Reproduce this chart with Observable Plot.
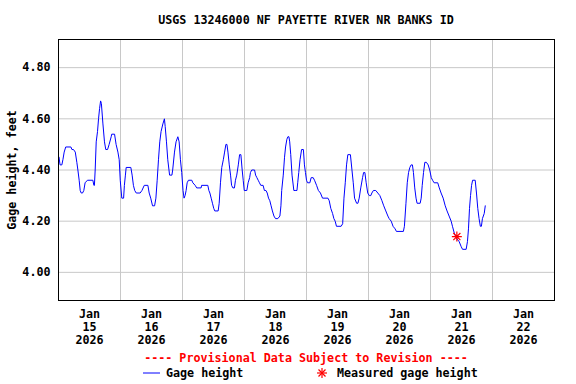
<!DOCTYPE html>
<html>
<head>
<meta charset="utf-8">
<script src="https://cdn.jsdelivr.net/npm/d3@7"></script>
<script src="https://cdn.jsdelivr.net/npm/@observablehq/plot@0.6"></script>
<style>
  body { margin: 0; background: #fff; }
  #wrap { position: relative; width: 576px; height: 384px; overflow: hidden;
          font-family: "DejaVu Sans Mono", monospace; font-weight: bold; font-size: 11.7px; color: #000; }
  .t { position: absolute; white-space: pre; line-height: 14px; }
  #chart { position: absolute; left: 0; top: 34px; }
</style>
</head>
<body>
<div id="wrap">
  <div class="t" id="title" style="left:58px;width:496px;top:13px;text-align:center;"></div>
  <div id="chart"></div>
  <div class="t" id="caption" style="left:58px;width:496px;top:351px;text-align:center;color:#ff0000;"></div>
  <svg style="position:absolute;left:0;top:360px" width="576" height="24">
    <line x1="143" x2="160" y1="13" y2="13" stroke="#0000ff" stroke-width="1"></line>
    <g transform="translate(322,13)" stroke="#ff0000" stroke-width="1.2">
      <line x1="-5" x2="5" y1="0" y2="0"></line>
      <line x1="0" x2="0" y1="-5" y2="5"></line>
      <line x1="-3.5" x2="3.5" y1="-3.5" y2="3.5"></line>
      <line x1="-3.5" x2="3.5" y1="3.5" y2="-3.5"></line>
    </g>
  </svg>
  <div class="t" id="leg1" style="left:166px;top:366px;"></div>
  <div class="t" id="leg2" style="left:337px;top:366px;"></div>
</div>
<script>
// ---- data ----
const titleText = "USGS 13246000 NF PAYETTE RIVER NR BANKS ID";
const captionText = "---- Provisional Data Subject to Revision ----";
const legendLine = "Gage height";
const legendStar = "Measured gage height";
const yLabel = "Gage height, feet";
const yTicks = [4.00, 4.20, 4.40, 4.60, 4.80];
const dayLabels = ["15", "16", "17", "18", "19", "20", "21", "22"];
const monthLabel = "Jan";
const yearLabel = "2026";
// [hours since 2026-01-15 00:00, gage height ft]
const gageReadings = [
  [0.2,4.45],[0.6,4.42],[1.3,4.42],[1.7,4.44],[2.2,4.47],[2.8,4.49],[4.8,4.49],[5.2,4.48],[5.8,4.48],
  [6.5,4.47],[7.1,4.43],[7.5,4.40],[8.0,4.36],[8.4,4.32],[8.8,4.31],[9.3,4.31],[9.8,4.32],[10.3,4.35],
  [11.2,4.36],[13.3,4.36],[13.7,4.34],[13.9,4.34],[14.2,4.40],[14.6,4.51],[15.1,4.55],[15.5,4.60],
  [15.9,4.64],[16.3,4.67],[16.6,4.66],[17.2,4.58],[17.8,4.51],[18.3,4.48],[19.0,4.48],[19.6,4.50],
  [20.4,4.53],[20.6,4.54],[21.7,4.54],[22.3,4.50],[23.0,4.47],[23.5,4.44],[23.9,4.36],[24.5,4.29],
  [25.2,4.29],[25.5,4.34],[25.9,4.38],[26.2,4.41],[28.0,4.41],[28.5,4.38],[29.0,4.34],[29.5,4.32],
  [30.1,4.31],[31.6,4.31],[32.3,4.32],[33.2,4.34],[34.6,4.34],[35.1,4.31],[35.7,4.29],[36.4,4.26],
  [37.2,4.26],[37.7,4.29],[38.2,4.36],[38.7,4.44],[39.2,4.51],[39.7,4.55],[40.4,4.58],[41.0,4.60],
  [41.3,4.57],[41.8,4.51],[42.3,4.44],[43.0,4.38],[43.9,4.38],[44.2,4.40],[44.9,4.47],[45.5,4.51],
  [46.2,4.53],[46.7,4.51],[47.2,4.44],[47.7,4.39],[48.2,4.32],[48.6,4.29],[49.0,4.30],[49.4,4.32],
  [49.8,4.35],[50.3,4.36],[51.6,4.36],[52.0,4.35],[52.9,4.34],[53.5,4.33],[55.2,4.33],
  [55.4,4.34],[57.8,4.34],[58.2,4.32],[58.6,4.31],[59.1,4.29],[59.6,4.27],[60.1,4.25],[60.5,4.24],
  [61.8,4.24],[62.2,4.27],[62.7,4.35],[63.2,4.41],[63.8,4.44],[64.3,4.47],[64.8,4.50],[65.2,4.50],
  [65.6,4.47],[66.1,4.42],[66.6,4.38],[67.0,4.34],[67.5,4.33],[68.1,4.33],[68.5,4.36],[69.0,4.38],
  [69.6,4.42],[70.1,4.46],[70.6,4.46],[71.1,4.40],[71.5,4.36],[71.9,4.32],[72.9,4.32],[73.4,4.35],
  [74.0,4.37],[74.3,4.39],[74.8,4.40],[75.9,4.40],[76.3,4.38],[76.8,4.37],[77.3,4.36],[77.8,4.35],
  [78.3,4.34],[79.2,4.34],[79.7,4.32],[80.3,4.32],[80.8,4.31],[81.3,4.29],[81.8,4.28],[82.3,4.26],
  [82.8,4.24],[83.4,4.22],[84.0,4.21],[84.9,4.21],[85.7,4.22],[86.1,4.26],[86.4,4.32],[87.0,4.38],
  [87.5,4.45],[87.9,4.49],[88.4,4.52],[88.8,4.53],[89.2,4.53],[89.5,4.51],[89.9,4.46],[90.4,4.38],
  [91.1,4.32],[91.6,4.32],[92.3,4.32],[92.6,4.35],[93.0,4.39],[93.5,4.44],[94.1,4.48],[94.8,4.48],
  [95.2,4.42],[95.6,4.39],[96.0,4.36],[96.4,4.35],[97.3,4.35],[97.8,4.37],[98.6,4.37],[99.1,4.36],
  [99.9,4.34],[100.6,4.32],[101.4,4.31],[102.2,4.29],[104.3,4.29],[104.8,4.28],[105.4,4.25],
  [106.1,4.23],[106.6,4.21],[107.1,4.20],[107.6,4.18],[109.4,4.18],[110.0,4.19],
  [110.5,4.29],[111.0,4.35],[111.5,4.42],[112.0,4.46],[113.0,4.46],[113.6,4.40],[114.1,4.35],
  [114.6,4.29],[115.4,4.27],[115.9,4.27],[116.4,4.29],[117.0,4.33],[117.7,4.37],[118.1,4.39],
  [118.6,4.39],[119.1,4.35],[119.7,4.31],[120.3,4.30],[120.9,4.30],[121.3,4.31],[121.9,4.32],
  [122.8,4.32],[123.6,4.31],[124.4,4.30],[125.2,4.28],[125.9,4.26],[126.7,4.24],[127.5,4.22],
  [128.0,4.21],[128.8,4.20],[129.5,4.18],[130.3,4.17],[130.8,4.16],[133.5,4.16],[133.9,4.18],
  [134.5,4.27],[135.0,4.35],[135.5,4.39],[136.0,4.41],[136.5,4.42],[137.0,4.42],[137.4,4.39],
  [137.9,4.33],[138.4,4.29],[138.8,4.27],[140.0,4.27],[140.4,4.29],[140.8,4.34],[141.3,4.39],
  [141.8,4.43],[142.4,4.43],[143.1,4.42],[143.7,4.40],[144.3,4.37],[144.8,4.36],[145.4,4.35],
  [146.8,4.35],[147.4,4.33],[148.1,4.31],[148.9,4.29],[149.7,4.26],[150.4,4.24],[151.2,4.22],
  [152.0,4.20],[152.5,4.18],[153.3,4.15],[154.3,4.13],[155.1,4.12],[155.9,4.10],[156.4,4.09],
  [157.8,4.09],[158.3,4.12],[158.7,4.17],[159.1,4.25],[159.5,4.30],[159.9,4.34],[160.3,4.36],
  [161.3,4.36],[161.8,4.31],[162.3,4.25],[162.8,4.21],[163.3,4.18],[163.7,4.18],[164.1,4.21],
  [164.8,4.23],[165.2,4.26]
];
const measuredHours = [154.2];
const measuredFeet = [4.14];

// ---- build ----
document.getElementById("title").textContent = titleText;
document.getElementById("caption").textContent = captionText;
document.getElementById("leg1").textContent = legendLine;
document.getElementById("leg2").textContent = legendStar;

const start = Date.UTC(2026, 0, 15);
const toDate = h => new Date(start + h * 3600e3);
const series = gageReadings.map(([h, v]) => ({t: toDate(h), v}));
const measured = measuredHours.map((h, i) => ({t: toDate(h), v: measuredFeet[i]}));
const noons = dayLabels.map((d, i) => ({t: toDate(12 + 24 * i), label: `${monthLabel}\n${d}\n${yearLabel}`}));
const midnights = d3.range(1, dayLabels.length).map(i => toDate(24 * i));

const star8 = {
  draw(ctx, size) {
    const r = Math.sqrt(size / Math.PI);
    for (let k = 0; k < 4; k++) {
      const a = k * Math.PI / 4, dx = r * Math.cos(a), dy = r * Math.sin(a);
      ctx.moveTo(-dx, -dy); ctx.lineTo(dx, dy);
    }
  }
};

const chart = Plot.plot({
  width: 576, height: 316,
  marginTop: 5, marginBottom: 50, marginLeft: 58, marginRight: 22,
  style: {fontFamily: "DejaVu Sans Mono, monospace", fontWeight: "bold", fontSize: "11.7px", background: "white", color: "black", overflow: "visible"},
  x: {type: "utc", domain: [toDate(0), toDate(24 * dayLabels.length)], axis: null},
  y: {domain: [3.89, 4.91], axis: null},
  marks: [
    Plot.gridY(yTicks, {stroke: "#c8c8c8", strokeOpacity: 1, strokeWidth: 1}),
    Plot.gridX(midnights, {stroke: "#c8c8c8", strokeOpacity: 1, strokeWidth: 1}),
    Plot.line(series, {x: "t", y: "v", stroke: "#0000ff", strokeWidth: 1}),
    Plot.dot(measured, {x: "t", y: "v", symbol: star8, r: 5, fill: "none", stroke: "#ff0000", strokeWidth: 1.2}),
    Plot.frame({stroke: "black", strokeWidth: 1}),
    Plot.axisY(yTicks, {tickSize: 0, tickPadding: 8, tickFormat: d3.format(".2f"),
      label: yLabel, labelAnchor: "center", labelArrow: "none", labelOffset: 51}),
    Plot.text(noons, {x: "t", text: "label", frameAnchor: "bottom", lineAnchor: "top", dy: 8, lineHeight: 1.11, fill: "black"})
  ]
});
document.getElementById("chart").append(chart);
</script>
</body>
</html>
